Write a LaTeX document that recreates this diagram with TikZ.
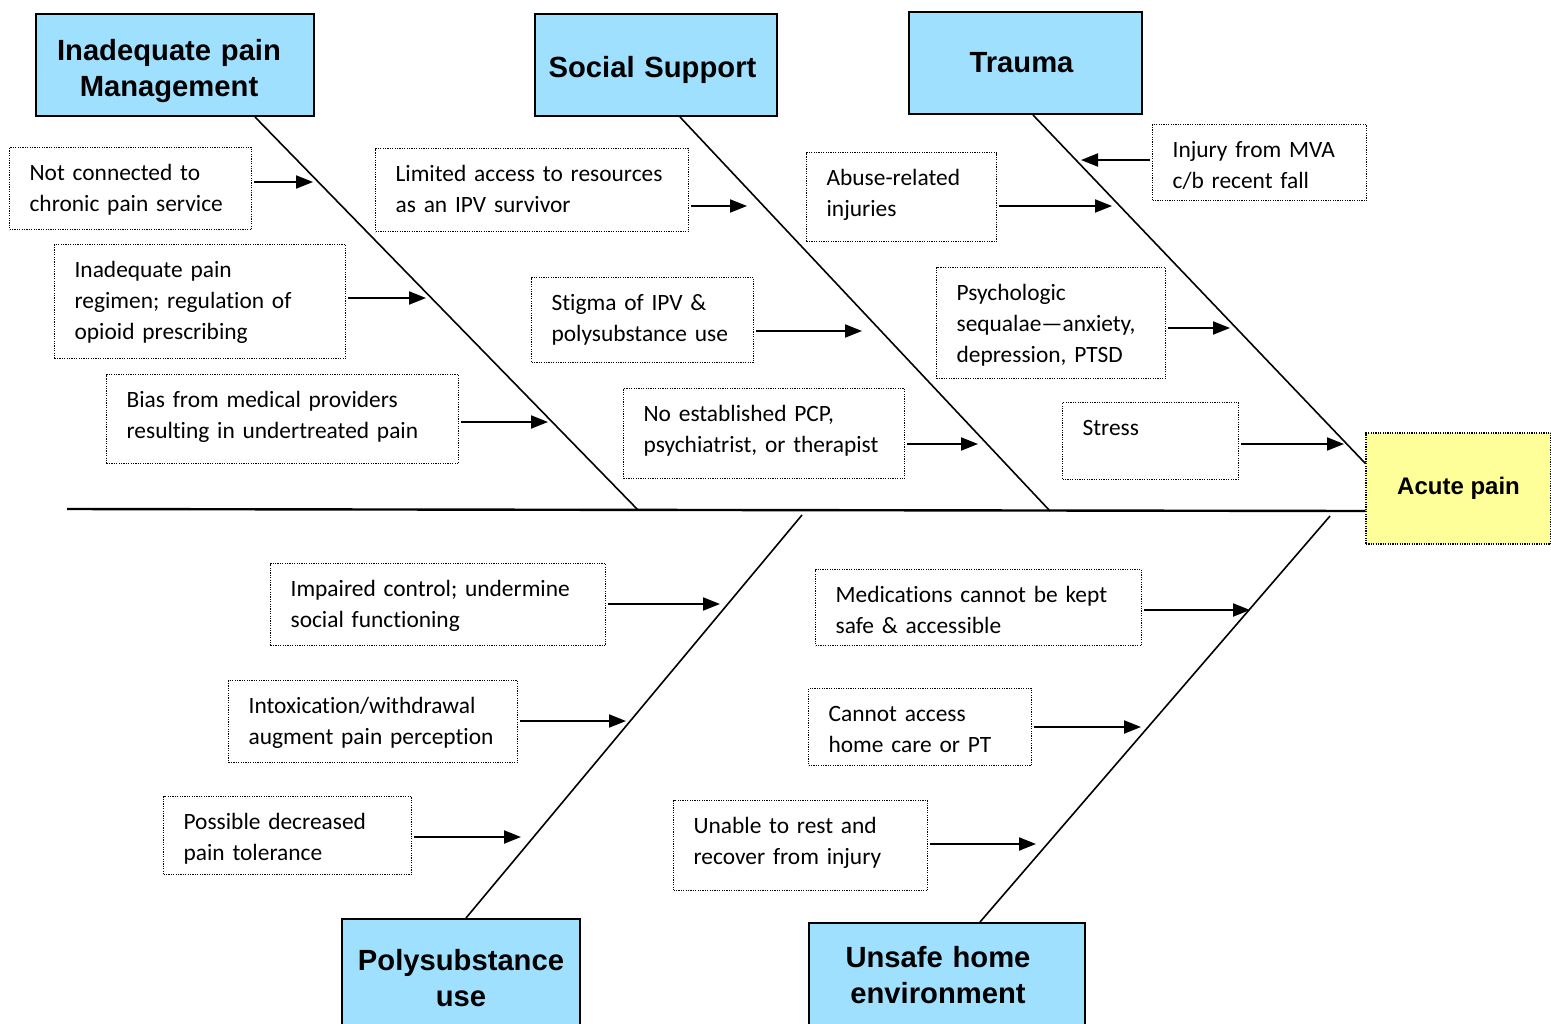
\documentclass[tikz,border=0pt]{standalone}
\usepackage{fontspec}
\setmainfont{Carlito}[Ligatures=NoCommon]
\newfontfamily\headfont{Liberation Sans}
\usetikzlibrary{arrows.meta}
\definecolor{headblue}{RGB}{160,224,255}
\definecolor{painyellow}{RGB}{255,255,153}
\hyphenpenalty=10000

\begin{document}
\begin{tikzpicture}[x=0.5pt, y=-0.5pt,
% boxes: placed by their top left corner, text hung from the top
head/.style={draw, line width=1pt, fill=headblue, anchor=north west, align=center,
             inner xsep=2pt, inner ysep=2pt,
             font=\headfont\bfseries\fontsize{14.6}{18}\selectfont},
headleft/.style={execute at begin node={\setlength{\leftskip}{0pt plus 1fil}%
             \setlength{\rightskip}{#1 plus 1fil}\setlength{\parfillskip}{0pt}}},
effect/.style={draw, line width=0.6pt, dash pattern=on 0.6pt off 0.6pt, fill=painyellow,
             font=\headfont\bfseries\fontsize{12}{14}\selectfont},
cause/.style={draw, line width=0.6pt, dash pattern=on 0.6pt off 0.6pt, anchor=north west,
             align=left, inner xsep=10pt, inner ysep=6.5pt, text height=10pt,
             font=\fontsize{11.7}{15.5}\selectfont},
% lines
spine/.style={line width=1.2pt},
bone/.style={line width=0.8pt},
arr/.style={-{Triangle[length=8.5pt,width=6.5pt]}, line width=1pt, shorten <=1pt},
]
    \useasboundingbox (0,0) rectangle (1551,1023);

    \node [effect, minimum width=92.5pt, minimum height=55.5pt] (eff) at (1458.5,488.5) {Acute pain};

    \node [head, headleft=6pt, text width=135pt, text height=21.25pt, text depth=25.75pt] (h1) at (35,13)
          {Inadequate pain\\Management};
    \node [head, headleft=3.5pt, text width=117pt, text height=29.75pt, text depth=17.25pt] (h2) at (534,13)
          {Social Support};
    \node [head, headleft=4pt, text width=112.5pt, text height=28.25pt, text depth=18.75pt] (h3) at (908,11)
          {Trauma};
    \node [head, text width=115pt, text height=23.75pt, text depth=30.25pt] (h4) at (341,918)
          {Polysubstance\\use};
    \node [head, headleft=9pt, text width=134pt, text height=20.25pt, text depth=31.75pt] (h5) at (808,922)
          {Unsafe home\\environment};

    % spine and bones
    \coordinate (tail) at (67,509);
    \coordinate (j1) at (638,510);
    \coordinate (j2) at (1050,511);
    \coordinate (j4) at (802,515);
    \coordinate (j5) at (1330,516);
    \draw [spine] (tail) -- ([yshift=-11.25pt]eff.west);
    \draw [bone] ([xshift=40pt]h1.south) -- (j1);
    \draw [bone] ([xshift=12pt]h2.south) -- (j2);
    \draw [bone] ([xshift=3.75pt]h3.south) -- ([yshift=12.5pt]eff.west);
    \draw [bone] (j4) -- ([xshift=2.5pt]h4.north);
    \draw [bone] (j5) -- ([xshift=16.5pt]h5.north);

    % causes
    \node [cause, text width=101pt, text depth=18pt] (c11) at (9,147)
          {Not connected to\\chronic pain service};
    \node [cause, text width=125.5pt, text depth=34pt] (c12) at (54,244)
          {Inadequate pain\\regimen; regulation of\\opioid prescribing};
    \node [cause, text width=156pt, text depth=21.5pt] (c13) at (106,374)
          {Bias from medical providers\\resulting in undertreated pain};
    \node [cause, text width=136.5pt, text depth=18.5pt] (c21) at (375,148)
          {Limited access to resources\\as an IPV survivor};
    \node [cause, text width=91pt, text depth=19.5pt] (c22) at (531,277)
          {Stigma of IPV \&\\polysubstance use};
    \node [cause, text width=120.5pt, text depth=22pt] (c23) at (623,388)
          {No established PCP,\\psychiatrist, or therapist};
    \node [cause, text width=75pt, text depth=21.5pt] (c31) at (806,152)
          {Abuse-related\\injuries};
    \node [cause, text width=87pt, text depth=15pt] (c32) at (1152,124)
          {Injury from MVA\\c/b recent fall};
    \node [cause, text width=94.5pt, text depth=32.5pt] (c33) at (936,267)
          {Psychologic\\sequalae—anxiety,\\depression, PTSD};
    \node [cause, text width=68pt, text depth=15.5pt] (c34) at (1062,402)
          {Stress};
    \node [cause, text width=147.5pt, text depth=18pt] (c41) at (270,563)
          {Impaired control; undermine\\social functioning};
    \node [cause, text width=124.5pt, text depth=18pt] (c42) at (228,680)
          {Intoxication/withdrawal\\augment pain perception};
    \node [cause, text width=104pt, text depth=16pt] (c43) at (163,796)
          {Possible decreased\\pain tolerance};
    \node [cause, text width=143pt, text depth=15pt] (c51) at (815,569)
          {Medications cannot be kept\\safe \& accessible};
    \node [cause, text width=91.5pt, text depth=15.5pt] (c52) at (808,688)
          {Cannot access\\home care or PT};
    \node [cause, text width=107pt, text depth=22pt] (c53) at (673,800)
          {Unable to rest and\\recover from injury};

    % arrow tips
    \coordinate (t11) at (313,182);
    \coordinate (t12) at (426,298);
    \coordinate (t13) at (548,422);
    \coordinate (t21) at (747,206);
    \coordinate (t22) at (862,331);
    \coordinate (t23) at (978,444);
    \coordinate (t31) at (1112,206);
    \coordinate (t32) at (1081,160);
    \coordinate (t33) at (1230,328);
    \coordinate (t34) at (1344,444);
    \coordinate (t41) at (720,604);
    \coordinate (t42) at (626,721);
    \coordinate (t43) at (521,837);
    \coordinate (t51) at (1250,610);
    \coordinate (t52) at (1141,727);
    \coordinate (t53) at (1036,844);

    \foreach \c in {11,12,13,21,22,23,31,33,34,41,42,43,51,52,53}
        \draw [arr] (c\c.east |- t\c) -- (t\c);
    \draw [arr] (c32.west |- t32) -- (t32);
\end{tikzpicture}
\end{document}
